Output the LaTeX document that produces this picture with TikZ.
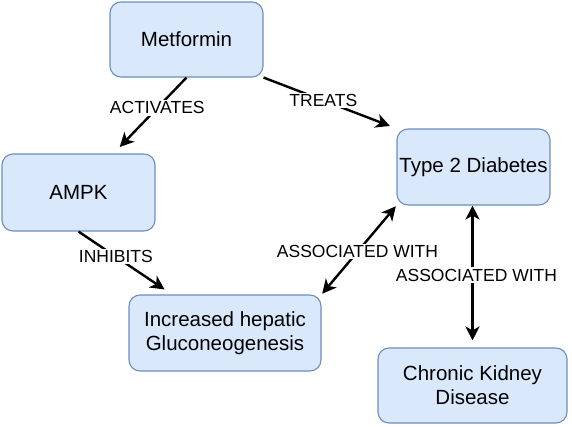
\documentclass[tikz,border=0pt]{standalone}
\usepackage{fontspec}
\setmainfont{Liberation Sans}
\usetikzlibrary{arrows.meta}
\tikzset{
  box/.style={draw=boxline, fill=boxfill, line width=1.1pt, rounded corners=11pt,
    align=center, inner sep=0pt, font=\fontsize{20.5}{24}\selectfont},
  conn/.style={line width=2.4pt, -{Stealth[length=14pt,width=14pt,inset=4pt]}},
  bconn/.style={line width=2.4pt, {Stealth[length=14pt,width=14pt,inset=4pt]}-{Stealth[length=14pt,width=14pt,inset=4pt]}},
  lbl/.style={fill=white, inner sep=1.5pt, font=\fontsize{17.5}{20}\selectfont}
}
\definecolor{boxfill}{HTML}{DAE8FC}
\definecolor{boxline}{HTML}{6C8EBF}
\begin{document}
\begin{tikzpicture}[x=1pt,y=-1pt]
\useasboundingbox[fill=white] (0,0) rectangle (572,426);
\node[box, minimum width=153pt, minimum height=75pt] (met) at (186.5,39.5) {Metformin};
\node[box, minimum width=153pt, minimum height=77pt] (ampk) at (78.5,192.5) {AMPK};
\node[box, minimum width=153pt, minimum height=76pt] (t2d) at (473.5,167) {Type 2 Diabetes};
\node[box, minimum width=192pt, minimum height=76pt] (inc) at (225,333) {Increased hepatic\\Gluconeogenesis};
\node[box, minimum width=189pt, minimum height=75pt] (ckd) at (472.5,385.5) {Chronic Kidney\\Disease};

\draw[conn, shorten >=9pt] (met.south) -- ([xshift=35pt]ampk.north)
  node[lbl, pos=0.4] (l1) {ACTIVATES};
\draw[conn, shorten >=7pt] (met.south east) -- (t2d.north west)
  node[lbl, pos=0.45] (l2) {TREATS};
\draw[conn, shorten >=9pt] (ampk.south) -- ([xshift=-53pt]inc.north)
  node[lbl, pos=0.4] (l3) {INHIBITS};
\draw[bconn, shorten <=1pt, shorten >=1pt] (t2d.south west) -- (inc.north east)
  node[lbl, pos=0.52] (l4) {ASSOCIATED WITH};
\draw[bconn, shorten >=7pt] ([xshift=-1pt]t2d.south) -- ([xshift=-0pt]ckd.north)
  node[lbl, pos=0.49, xshift=4pt] (l5) {ASSOCIATED WITH};
\end{tikzpicture}
\end{document}
